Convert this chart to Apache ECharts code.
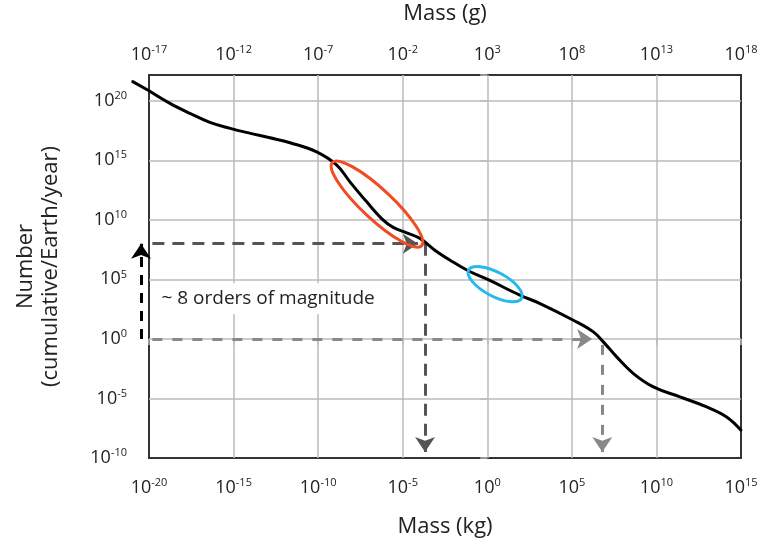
<!DOCTYPE html>
<html>
<head>
<meta charset="utf-8">
<script src="https://cdn.jsdelivr.net/npm/echarts@6.0.0/dist/echarts.min.js"></script>
<style>
  html, body { margin: 0; padding: 0; background: #fff; }
  #chart { width: 761px; height: 546px; }
</style>
</head>
<body>
<div id="chart"></div>
<script>
// log10(mass in kg) and log10(cumulative number / Earth / year)
const massLog = [-20, -18.76, -17.58, -16.4, -15.2, -14.0, -12.85, -11.66, -10.09, -8.9, -8.12, -7.13, -6.15, -5.56, -4.77, -3.98, -3.1, -2.2, -1.1, 0.12, 1.93, 3.12, 5.09, 6.27, 6.86, 7.65, 8.64, 9.82, 11.39, 12.97, 14.15, 15.04];
const numberLog = [20.84, 19.78, 18.94, 18.18, 17.68, 17.26, 16.89, 16.47, 15.71, 14.6, 13.19, 11.51, 9.97, 9.36, 8.91, 8.44, 7.45, 6.61, 5.7, 4.93, 3.67, 2.97, 1.57, 0.59, -0.25, -1.51, -2.91, -4.03, -4.87, -5.71, -6.55, -7.73];
// the curve runs a little past the left frame
const leadIn = [[-20.96, 21.6, -20, 20.84]];

// g = kg + 3 decades
const gramShift = 3;

// dashed guides [x1, y1, x2, y2] in log units
const guideDark = [[-19.8, 8, -4.1, 8], [-3.68, 8, -3.68, -9.5]];
const guideGray = [[-19.8, 0, 6.2, 0], [6.8, -0.5, 6.8, -9.5]];
const guideSpan = [[-20.47, 0, -20.47, 8]];

const spanText = '~ 8 orders of magnitude';
const spanTextAt = [-19.5, 3.4];
const redEllipseAt = [-6.52, 11.32];
const blueEllipseAt = [0.46, 4.6];

const FONT = 'Open Sans';

function pow10 (e) {
    return '{b|10}{s|' + e + '}';
}
const richLabel = {
    b: { fontSize: 18, color: '#222', fontFamily: FONT },
    s: { fontSize: 11, color: '#222', fontFamily: FONT, padding: [0, 0, 10, 0] }
};

function toLines (arr) {
    return arr.map(d => ({ coords: [[d[0], d[1]], [d[2], d[3]]] }));
}

const chart = echarts.init(document.getElementById('chart'));

const nameStyle = { fontSize: 22, color: '#222', fontFamily: FONT };
const gridLine = { showMinLine: false, showMaxLine: false, lineStyle: { color: '#bbb', width: 1.5 } };

const option = {
    animation: false,
    textStyle: { fontFamily: FONT },
    grid: {
        left: 149, right: 20, top: 75, bottom: 88,
        containLabel: false, outerBoundsMode: 'none',
        show: true, borderColor: '#333', borderWidth: 2, backgroundColor: 'transparent'
    },
    xAxis: [{
        type: 'value', min: -20, max: 15, interval: 5,
        name: 'Mass (kg)', nameLocation: 'middle', nameGap: 58,
        nameTextStyle: nameStyle,
        axisLine: { show: false },
        axisTick: { show: true, length: 6, lineStyle: { color: '#bbb', width: 1.5 } },
        splitLine: gridLine,
        axisLabel: { margin: 19, formatter: v => pow10(v), rich: richLabel }
    }, {
        type: 'value', position: 'top', min: -20, max: 15, interval: 5,
        name: 'Mass (g)', nameLocation: 'middle', nameGap: 50,
        nameTextStyle: nameStyle,
        axisLine: { show: false }, axisTick: { show: false }, splitLine: { show: false },
        axisLabel: { margin: 10, formatter: v => pow10(v + gramShift), rich: richLabel }
    }],
    yAxis: {
        type: 'value', min: -10, max: 22.16, interval: 5,
        name: 'Number\n(cumulative/Earth/year)', nameLocation: 'middle', nameGap: 86, nameRotate: 90,
        nameTextStyle: Object.assign({ lineHeight: 25 }, nameStyle),
        axisLine: { show: false },
        axisTick: { show: true, length: 7, lineStyle: { color: '#bbb', width: 1.5 } },
        splitLine: gridLine,
        axisLabel: {
            margin: 22,
            formatter: v => (v % 5 === 0 ? pow10(v) : ''),
            rich: richLabel
        }
    },
    series: [{
        type: 'line',
        data: massLog.map((x, i) => [x, numberLog[i]]),
        smooth: 0.4, showSymbol: false, clip: false, z: 5,
        lineStyle: { color: '#000', width: 3 }
    }, {
        type: 'lines', coordinateSystem: 'cartesian2d', clip: false, z: 5,
        data: toLines(leadIn),
        lineStyle: { color: '#000', width: 3, opacity: 1, cap: 'round' }
    }, {
        type: 'lines', coordinateSystem: 'cartesian2d', clip: false, z: 4,
        data: toLines(guideDark),
        symbol: ['none', 'arrow'], symbolSize: [12, 15],
        lineStyle: { color: '#555', width: 3, type: [12, 8], opacity: 1 }
    }, {
        type: 'lines', coordinateSystem: 'cartesian2d', clip: false, z: 4,
        data: toLines(guideGray),
        symbol: ['none', 'arrow'], symbolSize: [12, 15],
        lineStyle: { color: '#888', width: 3, type: [10, 10], opacity: 1 }
    }, {
        type: 'lines', coordinateSystem: 'cartesian2d', clip: false, z: 4,
        data: toLines(guideSpan),
        symbol: ['none', 'arrow'], symbolSize: [12, 15],
        lineStyle: { color: '#000', width: 3, type: [10, 8], opacity: 1 }
    }]
};

chart.setOption(option);

const txt = chart.convertToPixel({ gridIndex: 0 }, spanTextAt);
const red = chart.convertToPixel({ gridIndex: 0 }, redEllipseAt);
const blue = chart.convertToPixel({ gridIndex: 0 }, blueEllipseAt);

chart.setOption({
    graphic: [{
        type: 'text', x: txt[0], y: txt[1], z: 10,
        style: {
            text: spanText, fontSize: 19, fontFamily: FONT, fill: '#222',
            verticalAlign: 'middle', backgroundColor: '#fff', padding: [6, 4]
        }
    }, {
        type: 'ellipse', x: red[0], y: red[1], rotation: -0.75, z: 8,
        shape: { cx: 0, cy: 0, rx: 61, ry: 15 },
        style: { fill: 'none', stroke: '#f24a22', lineWidth: 3 }
    }, {
        type: 'ellipse', x: blue[0], y: blue[1], rotation: -0.49, z: 8,
        shape: { cx: 0, cy: 0, rx: 30, ry: 12 },
        style: { fill: 'none', stroke: '#25b9ee', lineWidth: 3 }
    }]
});
</script>
</body>
</html>
